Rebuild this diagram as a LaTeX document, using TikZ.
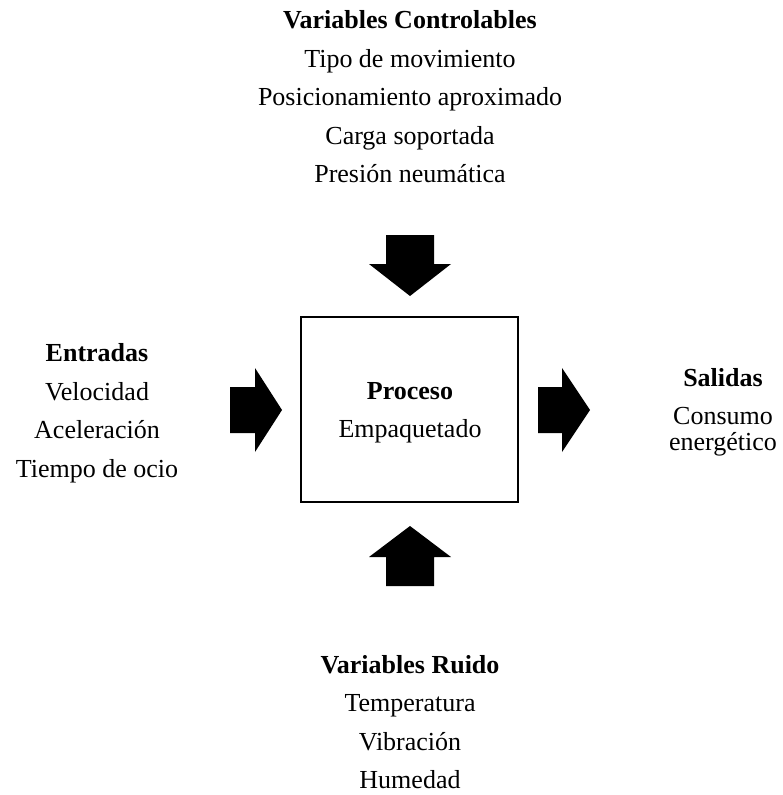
\documentclass[tikz,border=0pt]{standalone}
\usepackage{fontspec}
\setmainfont{Liberation Serif}
\begin{document}
\begin{tikzpicture}[x=1pt,y=-1pt,
  txt/.style={anchor=base,inner sep=0pt,font=\fontsize{26}{30}\selectfont},
  hd/.style={txt,font=\fontsize{26}{30}\selectfont\bfseries},
  blockarrow/.style={fill=black,draw=none}]
\useasboundingbox (0,0) rectangle (783,795);
% process box
\node[draw,line width=2pt,minimum width=217pt,minimum height=185pt,inner sep=0pt] (proc) at (409.5,409.5) {};
\node[hd] (proct) at (410,399) {Proceso};
\node[txt] (proc1) at (410,437) {Empaquetado};
% top group
\node[hd] (vc) at (410,28) {Variables Controlables};
\node[txt] (vc1) at (410,67) {Tipo de movimiento};
\node[txt] (vc2) at (410,105.5) {Posicionamiento aproximado};
\node[txt] (vc3) at (410,144) {Carga soportada};
\node[txt] (vc4) at (410,182.5) {Presión neumática};
% left group
\node[hd] (en) at (97,361.5) {Entradas};
\node[txt] (en1) at (97,400) {Velocidad};
\node[txt] (en2) at (97,438.5) {Aceleración};
\node[txt] (en3) at (97,477) {Tiempo de ocio};
% right group
\node[hd] (sa) at (723,386) {Salidas};
\node[txt] (sa1) at (723,424) {Consumo};
\node[txt] (sa2) at (723,450.5) {energético};
% bottom group
\node[hd] (vr) at (410,673) {Variables Ruido};
\node[txt] (vr1) at (410,711.5) {Temperatura};
\node[txt] (vr2) at (410,750) {Vibración};
\node[txt] (vr3) at (410,788.5) {Humedad};
% block arrows
\fill[blockarrow] (386,235) -- (434,235) -- (434,264) -- (451,264) -- (410,296) -- (369,264) -- (386,264) -- cycle;
\fill[blockarrow] (386,586) -- (434,586) -- (434,557) -- (451,557) -- (410,526) -- (369,557) -- (386,557) -- cycle;
\fill[blockarrow] (230,387) -- (255,387) -- (255,368) -- (282,410) -- (255,452) -- (255,433) -- (230,433) -- cycle;
\fill[blockarrow] (538,387) -- (562,387) -- (562,368) -- (590,410) -- (562,452) -- (562,433) -- (538,433) -- cycle;
\end{tikzpicture}
\end{document}
